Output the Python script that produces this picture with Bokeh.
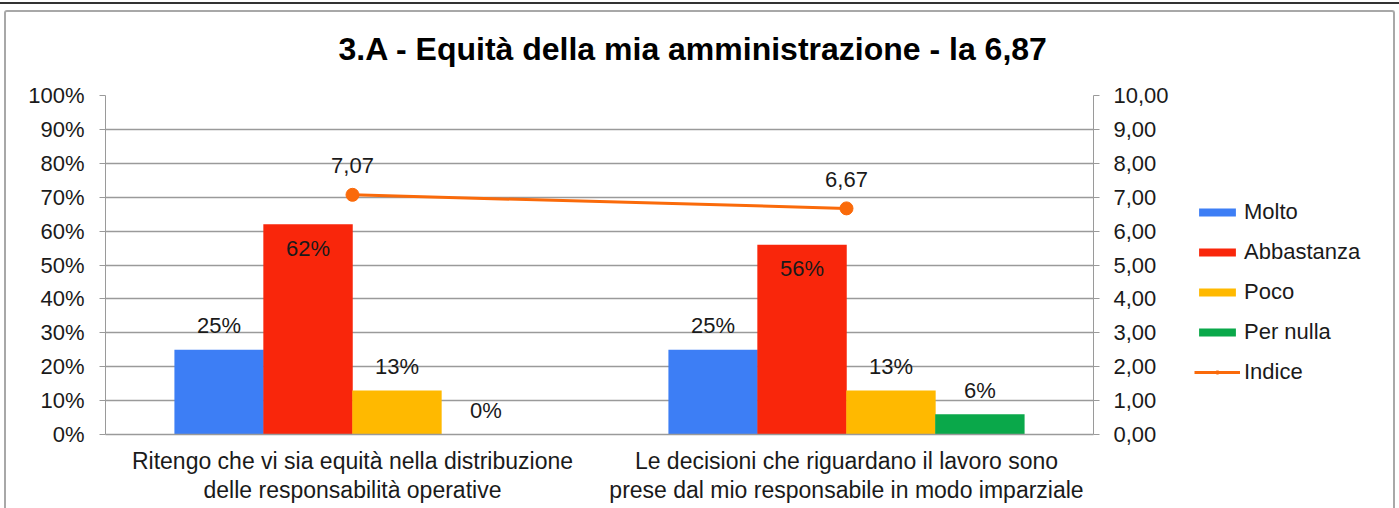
from bokeh.plotting import figure
from bokeh.layouts import row
from bokeh.models import (ColumnDataSource, FactorRange, Range1d, LinearAxis, FixedTicker,
                          NumeralTickFormatter, CustomJSTickFormatter, LabelSet, Legend, LegendItem)
from bokeh.transform import dodge
from bokeh.core.properties import value
from bokeh.embed import file_html
from bokeh.resources import INLINE

# ---------------- data ----------------
title_text = "3.A - Equità della mia amministrazione - la 6,87"
categories = [
    "Ritengo che vi sia equità nella distribuzione\ndelle responsabilità operative",
    "Le decisioni che riguardano il lavoro sono\nprese dal mio responsabile in modo imparziale",
]
series = ["Molto", "Abbastanza", "Poco", "Per nulla"]
molto = [0.25, 0.25]
abbastanza = [0.62, 0.56]
poco = [0.13, 0.13]
per_nulla = [0.00, 0.06]
indice = [7.07, 6.67]
indice_name = "Indice"
pct_ticks = [0.0, 0.1, 0.2, 0.3, 0.4, 0.5, 0.6, 0.7, 0.8, 0.9, 1.0]
idx_ticks = [0, 1, 2, 3, 4, 5, 6, 7, 8, 9, 10]

# ---------------- style ----------------
FONT = "Liberation Sans"
FS = "22px"
colors = ["#3d7ef5", "#f9260b", "#ffb900", "#0aa84a"]
line_color = "#fa6a0a"
grid_color = "#9a9a9a"
text_color = "#1a1a1a"
offsets = [-0.27, -0.09, 0.09, 0.27]
bar_w = 0.181
MAIN_W = 1185
LEG_W = 1399 - MAIN_W
H = 508

values = [molto, abbastanza, poco, per_nulla]
data = {"cat": categories, "idx": indice,
        "idx_lbl": [f"{v:.2f}".replace(".", ",") for v in indice]}
for name, vals in zip(series, values):
    data[name] = vals
    data[name + "_lbl"] = [f"{round(v * 100)}%" for v in vals]
src = ColumnDataSource(data)

p = figure(width=MAIN_W, height=H, output_backend="svg", toolbar_location=None,
           x_range=FactorRange(factors=categories, range_padding=0),
           y_range=Range1d(0, 1),
           min_border_left=105, min_border_right=MAIN_W - 1093, min_border_top=95,
           min_border_bottom=74)
p.extra_y_ranges = {"idx": Range1d(0, 10)}
p.outline_line_color = None
p.background_fill_color = "white"
p.border_fill_color = "white"

# title
p.title.text = title_text
p.title.align = "left"
p.title.offset = 233
p.title.text_font = FONT
p.title.text_font_size = "32px"
p.title.text_font_style = "bold"
p.title.text_color = "black"
p.title.standoff = 57

# grid
p.xgrid.grid_line_color = None
p.ygrid.ticker = FixedTicker(ticks=pct_ticks)
p.ygrid.grid_line_color = grid_color
p.ygrid.grid_line_width = 1.5

# left axis
ya = p.yaxis[0]
ya.ticker = FixedTicker(ticks=pct_ticks)
ya.formatter = NumeralTickFormatter(format="0%")
ya.major_tick_out = 6
ya.major_tick_in = 0
ya.minor_tick_line_color = None
ya.axis_line_color = grid_color
ya.major_tick_line_color = grid_color
ya.major_label_text_font = FONT
ya.major_label_text_font_size = FS
ya.major_label_text_color = text_color
ya.major_label_standoff = 15

# right axis
ra = LinearAxis(y_range_name="idx", ticker=FixedTicker(ticks=idx_ticks),
                formatter=CustomJSTickFormatter(code="return tick.toFixed(2).replace('.', ',');"))
ra.major_tick_out = 6
ra.major_tick_in = 0
ra.minor_tick_line_color = None
ra.axis_line_color = grid_color
ra.major_tick_line_color = grid_color
ra.major_label_text_font = FONT
ra.major_label_text_font_size = FS
ra.major_label_text_color = text_color
ra.major_label_standoff = 14
p.add_layout(ra, "right")

# x axis
xa = p.xaxis[0]
xa.major_tick_line_color = None
xa.axis_line_color = grid_color
xa.axis_line_width = 1.5
xa.major_label_text_font = FONT
xa.major_label_text_font_size = "23px"
xa.major_label_text_color = text_color
xa.major_label_standoff = 7
xa.major_label_text_line_height = 1.15

# bars
for name, col, off in zip(series, colors, offsets):
    p.vbar(x=dodge("cat", off, range=p.x_range), top=name, width=bar_w, bottom=0,
           source=src, fill_color=col, line_color=None)
    yoff = -24 if name == "Abbastanza" else 24
    p.add_layout(LabelSet(x=dodge("cat", off, range=p.x_range), y=name, text=name + "_lbl",
                          source=src, y_offset=yoff, text_align="center", text_baseline="middle",
                          text_font=value(FONT), text_font_size=value(FS), text_color=text_color))

# index line
p.line(x="cat", y="idx", source=src, y_range_name="idx", line_color=line_color, line_width=3)
p.scatter(x="cat", y="idx", source=src, y_range_name="idx", marker="circle", size=13,
          fill_color=line_color, line_color=line_color)
p.add_layout(LabelSet(x="cat", y="idx", text="idx_lbl", source=src, y_range_name="idx",
                      y_offset=29, text_align="center", text_baseline="middle",
                      text_font=value(FONT), text_font_size=value(FS), text_color=text_color))

# ---------------- legend (separate panel on the right) ----------------
q = figure(width=LEG_W, height=H, output_backend="svg", toolbar_location=None,
           x_range=Range1d(0, 1), y_range=Range1d(0, 1),
           min_border_left=0, min_border_right=0, min_border_top=0, min_border_bottom=0)
q.axis.visible = False
q.grid.visible = False
q.outline_line_color = None
q.background_fill_color = "white"
q.border_fill_color = "white"

# hidden proxy renderers, used only to draw the legend swatches
proxy = ColumnDataSource(dict(x=[0.5], y=[0.5], top=[0.5]))
leg_items = []
for name, col in zip(series, colors):
    r = q.vbar(x="x", top="top", width=0.1, source=proxy, fill_color=col, line_color=None,
               visible=False)
    leg_items.append(LegendItem(label=name, renderers=[r]))
lr = q.line(x="x", y="y", source=proxy, line_color=line_color, line_width=3, visible=False)
sr = q.scatter(x="x", y="y", source=proxy, marker="asterisk", size=9, line_color=line_color,
               line_width=1.5, visible=False)
leg_items.append(LegendItem(label=indice_name, renderers=[lr, sr]))

legend = Legend(items=leg_items, location=(9, 49), orientation="vertical",
                glyph_width=46, glyph_height=10, label_standoff=4, spacing=14,
                padding=0, margin=0, border_line_color=None, background_fill_alpha=0,
                inactive_fill_alpha=0,
                label_text_font=FONT, label_text_font_size=FS, label_text_color=text_color,
                label_height=20)
q.add_layout(legend, "center")

layout = row(p, q, spacing=0)
layout.stylesheets = [
    ":host { position: relative; }"
    ":host::after { content: ''; position: absolute; left: 4px; right: 4px; top: 10px; "
    "bottom: 0px; border: 2px solid #a8a8a8; border-bottom: none; border-radius: 3px 3px 0 0; "
    "pointer-events: none; z-index: 100; }"
    ":host::before { content: ''; position: absolute; left: 0px; right: 0px; top: 2px; "
    "height: 0px; border-top: 2px solid #333333; pointer-events: none; z-index: 100; }"
]

open("out.html", "w").write(file_html(layout, INLINE))
